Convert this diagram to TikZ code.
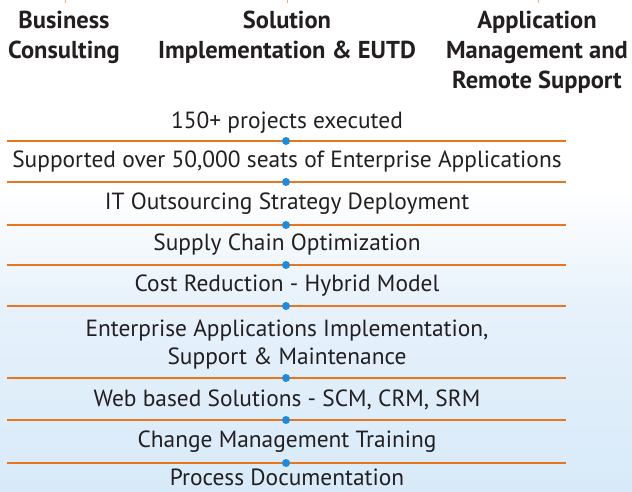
\documentclass[tikz,border=0pt]{standalone}
\usepackage{fontspec}
\setmainfont{PT Sans}
\definecolor{lineorange}{HTML}{E8761E}
\definecolor{dotblue}{HTML}{1B8BE0}
\definecolor{txt}{HTML}{231F20}
\definecolor{skyA}{HTML}{E6F1FB}
\definecolor{skyB}{HTML}{D8EAF9}
\tikzset{
  sep/.style={draw=lineorange, line width=2.6pt},
  dot/.style={circle, fill=dotblue, inner sep=0pt, minimum size=8pt},
  item/.style={text=txt, font=\fontsize{23.4}{28}\selectfont, align=center, inner sep=0pt},
  head/.style={text=txt, font=\bfseries\fontsize{24.5}{30}\selectfont, align=center, inner sep=0pt},
  tick/.style={draw=lineorange!60, line width=0.8pt}
}
\begin{document}
\begin{tikzpicture}[x=1pt,y=-1pt]
\useasboundingbox (0,0) rectangle (632,492);
\fill[white] (0,0) rectangle (632,492);
\shade[top color=white, bottom color=skyA] (0,190) rectangle (632,310);
\shade[top color=skyA, bottom color=skyB] (0,310) rectangle (632,492);
% top ticks
\draw[tick] (65,0) -- (65,3);
\draw[tick] (287,0) -- (287,3);
\draw[tick] (538,0) -- (538,3);
% headers
\node[head] (h1) at (64,37) {Business\\Consulting};
\node[head] (h2) at (287,37) {Solution\\Implementation \& EUTD};
\node[head] (h3) at (537,52) {Application\\Management and\\Remote Support};
% items
\node[item] (t1) at (287,123) {150+ projects executed};
\node[item] (t2) at (287,162) {Supported over 50,000 seats of Enterprise Applications};
\node[item] (t3) at (287,204) {IT Outsourcing Strategy Deployment};
\node[item] (t4) at (287,245) {Supply Chain Optimization};
\node[item] (t5) at (287,286) {Cost Reduction - Hybrid Model};
\node[item] (t6) at (287,345) {Enterprise Applications Implementation,\\Support \& Maintenance};
\node[item] (t7) at (287,400) {Web based Solutions - SCM, CRM, SRM};
\node[item] (t8) at (287,442) {Change Management Training};
\node[item] (t9) at (287,477) {Process Documentation};
% separators
\foreach \y/\n in {141/1,182/2,225/3,265/4,306/5,378/6,420/7,463/8}{
  \draw[sep] (7,\y) -- (566,\y);
  \node[dot] (d\n) at (286,\y) {};
}
\end{tikzpicture}
\end{document}
